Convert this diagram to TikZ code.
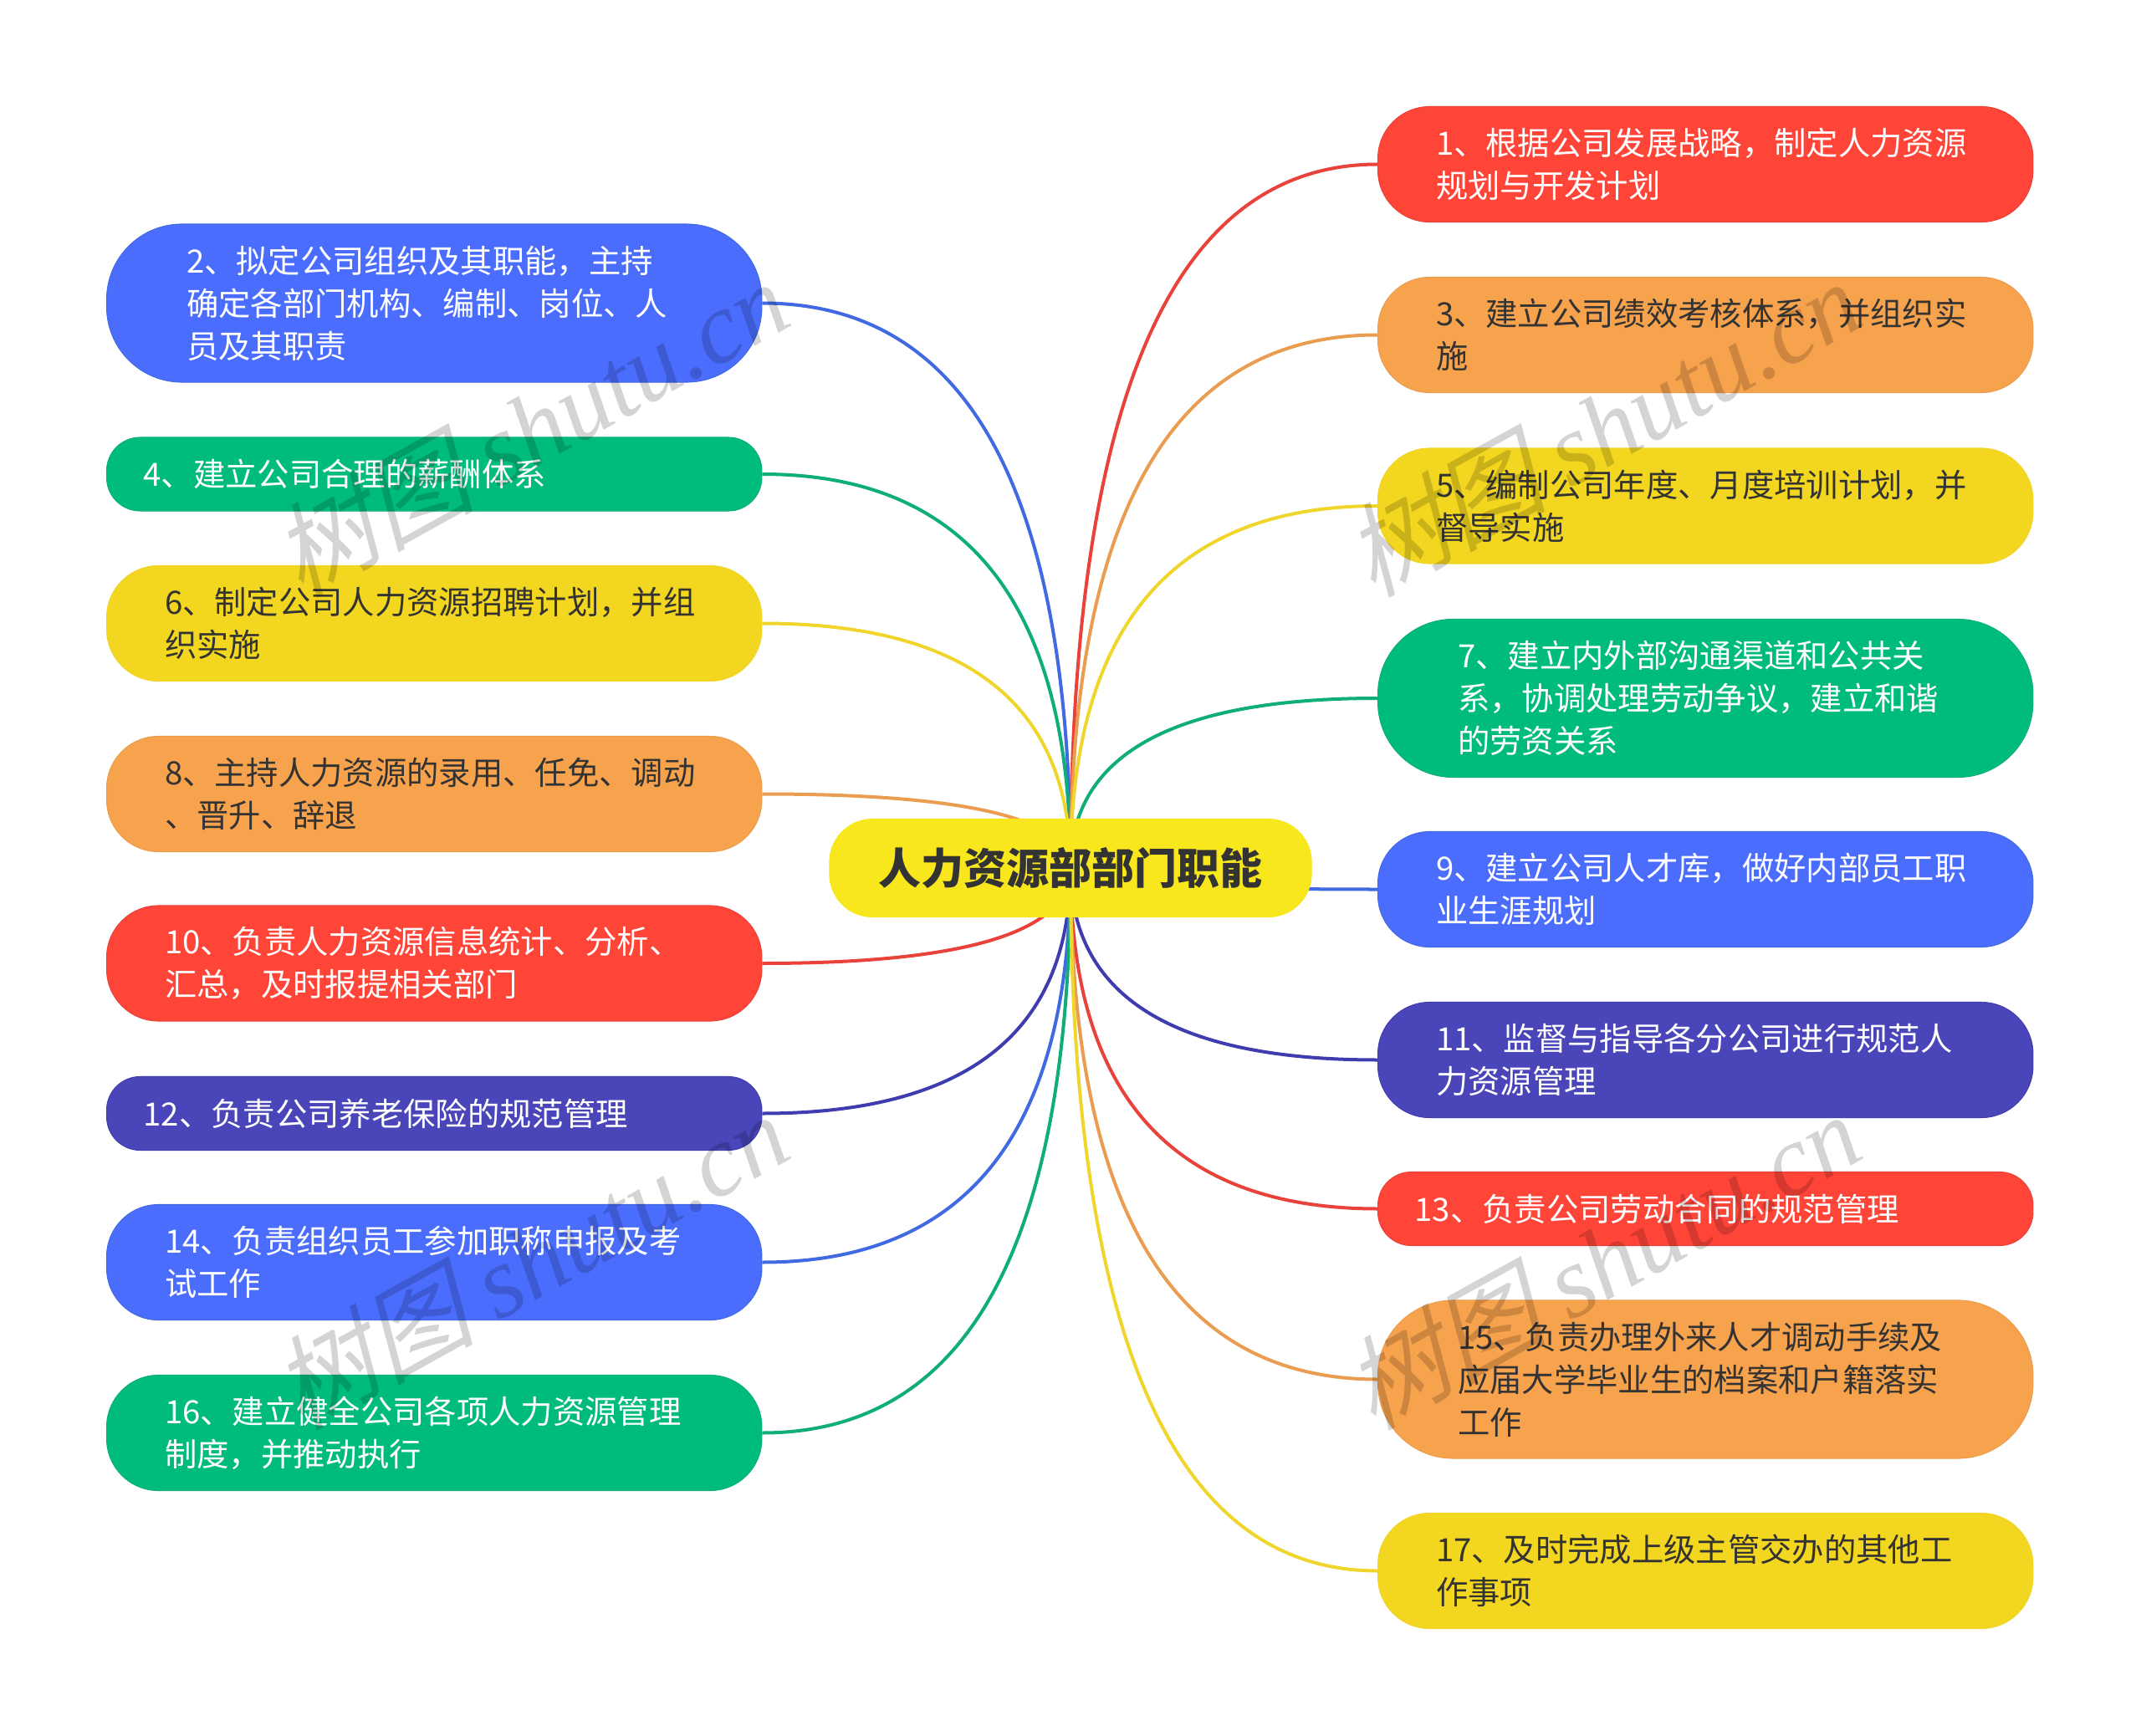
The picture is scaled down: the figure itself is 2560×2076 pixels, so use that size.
\documentclass[tikz,border=0pt]{standalone}
\usepackage{fontspec}
\setmainfont{Noto Sans CJK SC}
\newfontfamily\markcjk[FakeSlant=0.25]{Noto Sans CJK SC}
\newfontfamily\marklatin{Liberation Serif}
\usetikzlibrary{calc,backgrounds}
\definecolor{fillblue}{HTML}{4A6DFE}
\definecolor{lineblue}{HTML}{4169E1}
\definecolor{fillgreen}{HTML}{00BC7B}
\definecolor{linegreen}{HTML}{0FAE77}
\definecolor{fillyellow}{HTML}{F2D620}
\definecolor{lineyellow}{HTML}{EFD52C}
\definecolor{fillorange}{HTML}{F7A24C}
\definecolor{lineorange}{HTML}{EA9D50}
\definecolor{fillred}{HTML}{FF4438}
\definecolor{linered}{HTML}{E8423B}
\definecolor{fillindigo}{HTML}{4A45B8}
\definecolor{lineindigo}{HTML}{3F3CB0}
\definecolor{fillroot}{HTML}{F8E71C}
\tikzset{
  nodebox/.style={anchor=west, align=left, inner ysep=0pt, line width=0.01cm,
    font=\fontsize{10.9}{14.5}\selectfont},
  oneline/.style={minimum height=0.88cm, rounded corners=0.40cm, inner xsep=0.44cm, text width=6.95cm},
  twoline/.style={minimum height=1.38cm, rounded corners=0.62cm, inner xsep=0.695cm, text width=6.44cm},
  threeline/.style={minimum height=1.89cm, rounded corners=0.90cm, inner xsep=0.955cm, text width=5.92cm},
  boxblue/.style={fill=fillblue, draw=lineblue, text=white},
  boxgreen/.style={fill=fillgreen, draw=linegreen, text=white},
  boxred/.style={fill=fillred, draw=linered, text=white},
  boxindigo/.style={fill=fillindigo, draw=lineindigo, text=white},
  boxyellow/.style={fill=fillyellow, draw=lineyellow, text=black!80},
  boxorange/.style={fill=fillorange, draw=lineorange, text=black!80},
  rootbox/.style={fill=fillroot, text=black!80, minimum width=5.77cm, minimum height=1.18cm,
    rounded corners=0.52cm, font=\fontsize{14.5}{16}\selectfont\bfseries},
  branch/.style={line width=0.04cm},
  watermark/.style={rotate=29, text=black, text opacity=0.17, font=\fontsize{34.5}{38}\selectfont}
}

\begin{document}
\begin{tikzpicture}[x=0.01cm,y=-0.01cm]
\useasboundingbox (0,0) rectangle (2560,2076);
\node [rootbox] (root) at (1280,1038) {人力资源部部门职能};
% left column
\foreach \i/\col/\ypos/\kind/\txt in {
  2/blue/362.5/threeline/{2、拟定公司组织及其职能，主持\\确定各部门机构、编制、岗位、人\\员及其职责},
  4/green/567/oneline/{4、建立公司合理的薪酬体系},
  6/yellow/745.5/twoline/{6、制定公司人力资源招聘计划，并组\\织实施},
  8/orange/949.5/twoline/{8、主持人力资源的录用、任免、调动\\、晋升、辞退},
  10/red/1152/twoline/{10、负责人力资源信息统计、分析、\\汇总，及时报提相关部门},
  12/indigo/1331.5/oneline/{12、负责公司养老保险的规范管理},
  14/blue/1509.5/twoline/{14、负责组织员工参加职称申报及考\\试工作},
  16/green/1713.5/twoline/{16、建立健全公司各项人力资源管理\\制度，并推动执行}} {
  \node [nodebox,\kind,box\col] (n\i) at (127,\ypos) {\txt};
  \begin{scope}[on background layer]
    \draw [branch,line\col] (n\i.east) .. controls ($(n\i.east)!0.667!(root |- n\i.east)$)
      and ($(root.center)!0.667!(root |- n\i.east)$) .. (root.center);
  \end{scope}
}
% right column
\foreach \i/\col/\ypos/\kind/\txt in {
  1/red/196.5/twoline/{1、根据公司发展战略，制定人力资源\\规划与开发计划},
  3/orange/400.5/twoline/{3、建立公司绩效考核体系，并组织实\\施},
  5/yellow/605/twoline/{5、编制公司年度、月度培训计划，并\\督导实施},
  7/green/835/threeline/{7、建立内外部沟通渠道和公共关\\系，协调处理劳动争议，建立和谐\\的劳资关系},
  9/blue/1063.5/twoline/{9、建立公司人才库，做好内部员工职\\业生涯规划},
  11/indigo/1267.5/twoline/{11、监督与指导各分公司进行规范人\\力资源管理},
  13/red/1445.5/oneline/{13、负责公司劳动合同的规范管理},
  15/orange/1649.5/threeline/{15、负责办理外来人才调动手续及\\应届大学毕业生的档案和户籍落实\\工作},
  17/yellow/1878.5/twoline/{17、及时完成上级主管交办的其他工\\作事项}} {
  \node [nodebox,\kind,box\col] (n\i) at (1647,\ypos) {\txt};
  \begin{scope}[on background layer]
    \draw [branch,line\col] (n\i.west) .. controls ($(n\i.west)!0.667!(root |- n\i.west)$)
      and ($(root.center)!0.667!(root |- n\i.west)$) .. (root.center);
  \end{scope}
}
% watermark
\foreach \i/\xpos/\ypos in {1/633/511,2/1915/511,3/633/1507,4/1915/1507} {
  \node [watermark] (mark\i) at (\xpos,\ypos) {{\markcjk 树图} {\marklatin\itshape shutu.cn}};
}
\end{tikzpicture}
\end{document}
